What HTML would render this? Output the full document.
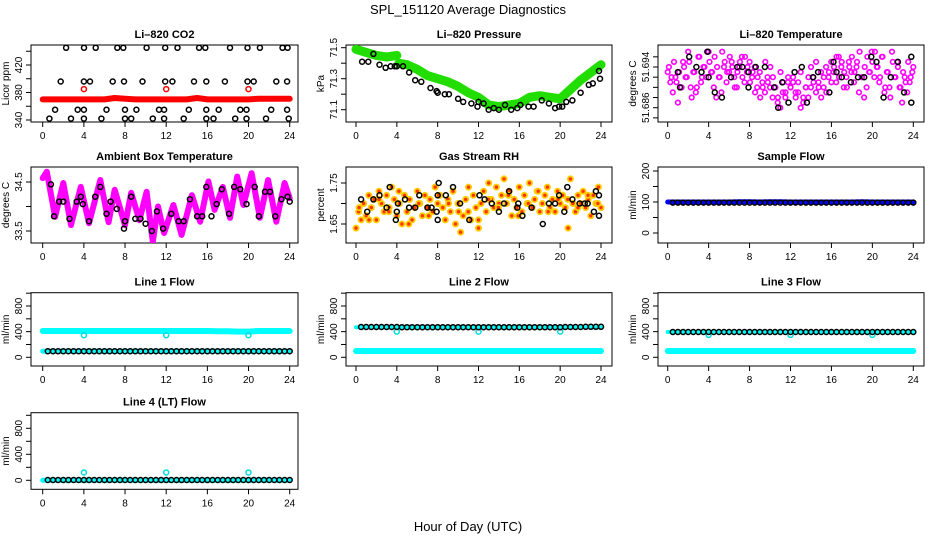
<!DOCTYPE html>
<html><head><meta charset="utf-8"><style>
html,body{margin:0;padding:0;background:#fff;}
svg{display:block;font-family:"Liberation Sans",Arial,sans-serif;}
</style></head><body>
<svg id="chart" width="936" height="540" viewBox="0 0 936 540" xmlns="http://www.w3.org/2000/svg">
<text x="468" y="14" text-anchor="middle" font-size="13">SPL_151120  Average Diagnostics</text>
<text x="468" y="531" text-anchor="middle" font-size="13">Hour of Day (UTC)</text>
</svg>
<script>
// ---- data ----
const xTickLabels = [0,4,8,12,16,20,24];
const co2TopT = [2.27,4.01,5.15,7.25,7.83,10.1,11.9,13.1,15.2,15.8,18.2,19.9,21.1,23.3,23.8];
const co2R400T = [1.75,4.0,4.6,6.8,7.9,9.7,11.9,12.6,14.7,15.9,17.7,19.9,20.5,22.7,23.75];
const co2R360T = [1.2,3.4,4.0,6.2,8.0,9.1,11.3,11.8,14.2,15.9,17.1,19.2,19.8,22.2,23.75];
const co2R342T = [0.65,2.75,4.0,5.7,8.0,8.6,10.7,11.8,13.7,15.9,16.6,18.7,19.8,21.7,23.9];
const co2Levels = [445,396,355,342];
const co2Band = [370,370,370,370,370,370,370,372,371,370,370,370,370,370,370,372,370,370,370,370,370,371,371,371,371];
const co2OutT = [4,12,20];
const co2OutV = [385,385,385];

const pressBandT = [0,1,2,3,4,4.2,5,6,7,8,9,10,11,12,13,14,15,16,17,18,19,20,21,22,23,24];
const pressBandV = [71.49,71.47,71.45,71.44,71.45,71.40,71.39,71.36,71.32,71.30,71.28,71.25,71.21,71.18,71.13,71.12,71.13,71.14,71.18,71.19,71.18,71.17,71.23,71.29,71.34,71.39];
const pressPtT = [0.6,1.2,1.7,2.3,2.9,3.4,3.8,4.0,4.6,5.2,5.8,6.4,7.3,7.9,8.0,8.7,9.1,10.0,10.5,11.3,11.9,12.0,12.5,13.0,13.5,14.0,14.6,15.2,15.8,16.1,16.9,17.4,18.2,18.9,19.5,19.9,20.2,20.6,21.2,22.0,22.8,23.2,23.8,23.9];
const pressPtV = [71.41,71.41,71.46,71.39,71.37,71.38,71.38,71.38,71.38,71.34,71.29,71.28,71.24,71.22,71.21,71.20,71.20,71.17,71.15,71.14,71.12,71.15,71.14,71.10,71.11,71.10,71.13,71.10,71.11,71.13,71.12,71.12,71.16,71.14,71.11,71.12,71.12,71.15,71.16,71.21,71.26,71.27,71.35,71.30];

const tempCloud = [51.693,51.691,51.689,51.692,51.687,51.690,51.695,51.692,51.697,
51.690,51.693,51.689,51.696,51.691,51.694,51.692,51.697,
51.693,51.690,51.688,51.692,51.689,51.694,51.691,51.693,
51.695,51.692,51.690,51.694,51.696,51.691,51.693,51.695,
51.692,51.694,51.690,51.693,51.691,51.689,51.692,51.690,
51.688,51.690,51.687,51.686,51.689,51.688,51.691,51.690,
51.692,51.689,51.691,51.693,51.688,51.690,51.692,51.694,
51.691,51.695,51.690,51.688,51.692,51.689,51.693,51.691,
51.694,51.696,51.692,51.695,51.693,51.690,51.694,51.696,
51.693,51.695,51.697,51.692,51.694,51.696,51.693,51.695,
51.697,51.694,51.692,51.696,51.690,51.693,51.688,51.695,
51.692,51.694,51.690,51.693,51.691,51.695,51.692,51.694];
const tempPtT = [1,1.2,2.1,2.8,3.3,3.9,4,4.6,5.3,6.2,6.8,7.3,7.9,7.9,8.6,9.5,10.4,10.8,11.2,11.8,12.4,13.1,13.6,14.2,14.7,15.8,16.2,16.5,17,17.9,18.6,19.2,19.9,20.4,21.1,21.8,22.5,23.1,23.8,23.8];
const tempPtV = [51.693,51.690,51.696,51.694,51.693,51.697,51.692,51.689,51.688,51.692,51.694,51.694,51.693,51.690,51.694,51.694,51.690,51.686,51.691,51.687,51.693,51.694,51.687,51.692,51.693,51.689,51.695,51.693,51.692,51.691,51.692,51.692,51.696,51.695,51.688,51.692,51.695,51.689,51.696,51.687];

const ambT = [0,0.4,1.2,2.0,2.75,3.7,4.5,5.6,6.4,7.0,8.0,8.6,9.4,10.1,10.7,11.2,11.8,12.7,13.5,14.5,15.3,16.1,16.7,17.5,18.2,18.9,19.5,20.3,21.1,21.9,22.7,23.5,24];
const ambV = [34.58,34.71,33.79,34.48,33.62,34.40,33.66,34.54,33.68,34.34,33.62,34.28,33.72,34.30,33.28,34.00,33.46,34.03,33.42,34.23,33.69,34.51,33.93,34.40,33.77,34.61,34.03,34.68,33.77,34.54,33.69,34.48,34.17];
const ambPtT = [0.8,1.1,1.6,2.0,2.6,3.3,3.7,3.9,4.5,5.1,5.6,6.2,6.6,7.2,7.9,8.0,8.6,9.0,9.5,10.0,10.6,11.1,11.7,12.5,13.2,13.7,14.3,15.0,15.5,15.9,16.4,16.9,17.4,18.1,18.6,19.2,19.8,20.6,21.0,21.6,22.1,22.6,23.2,23.8,24.0];
const ambPtV = [34.45,33.8,34.1,34.1,33.75,34.1,34.2,34.05,33.7,34.2,34.4,33.85,34.1,33.95,33.55,33.7,34.2,33.75,33.75,33.65,33.5,33.9,33.55,33.85,33.7,33.7,34.15,33.8,33.8,34.4,33.8,34.05,34.35,33.85,34.4,34.35,34.05,34.4,33.8,34.3,34.3,33.8,34.15,34.2,34.1];

const rhCloud = [1.64,1.68,1.66,1.70,1.67,1.72,1.69,1.71,1.66,
1.73,1.70,1.68,1.72,1.69,1.74,1.71,1.67,
1.70,1.65,1.72,1.68,1.71,1.66,1.69,1.73,
1.70,1.67,1.72,1.69,1.71,1.68,1.74,1.70,
1.72,1.69,1.66,1.71,1.68,1.73,1.65,1.70,
1.63,1.67,1.71,1.68,1.66,1.72,1.69,1.64,
1.70,1.73,1.68,1.75,1.71,1.69,1.74,1.70,
1.72,1.76,1.70,1.73,1.67,1.71,1.69,1.74,
1.68,1.72,1.70,1.75,1.69,1.71,1.73,1.68,
1.70,1.72,1.74,1.69,1.71,1.68,1.73,1.70,
1.72,1.69,1.71,1.76,1.70,1.68,1.72,1.70,
1.73,1.69,1.71,1.67,1.72,1.70,1.74,1.69];
const rhCloud2 = [1.69,1.66,1.71,1.68,1.73,1.65,1.70,1.67,1.72,1.70,1.68,1.74,1.66,1.71,1.69,1.72,1.67,1.70,1.73,1.68,1.71,1.64,1.69,1.72,1.70];
const rhPtT = [0.5,1.1,1.7,2.3,3.0,3.3,3.9,4.0,4.1,4.8,5.2,5.8,6.2,7.0,7.4,7.9,8.0,8.0,8.1,8.8,9.5,10.2,11.1,12.1,12.6,13.3,14.0,14.5,15.0,15.8,15.9,16.3,17.2,18.3,18.9,19.5,19.9,20.4,20.7,21.2,21.9,22.4,22.7,23.3,23.5,23.8,23.8];
const rhPtV = [1.71,1.68,1.71,1.72,1.69,1.74,1.66,1.68,1.70,1.71,1.69,1.69,1.72,1.69,1.69,1.68,1.66,1.72,1.75,1.72,1.74,1.70,1.66,1.72,1.71,1.70,1.68,1.70,1.73,1.69,1.70,1.67,1.69,1.65,1.70,1.70,1.72,1.68,1.74,1.71,1.70,1.70,1.70,1.68,1.73,1.72,1.67];

const sampleBand = [100,100,100,100,100,100,100,101,101,100,101,101,100,100,100,100,100,100,100,101,100,100,100,100,100];
const sampleBlack = [98,98,98,98,98,98,98,98,98,98,98,98,98,98,98,98,98,98,98,98,98,98,98,98,98,98,98,98,98,98,98,98,98,98,98,98,98,98,98,98,98,98,98,98,98,98,98,98];

const line1Cyan = [410,410,410,410,410,410,410,410,410,410,410,410,410,410,410,410,410,405,405,400,400,410,410,410,410];
const line1Black = [95,95,95,95,95,95,95,95,95,95,95,95,95,95,95,95,95,95,95,95,95,95,95,95,95,95,95,95,95,95,95,95,95,95,95,95,95,95,95,95,95,95,95,95,95,95,95,95];
const line1CyanLow = [95,95,95,95,95,95,95,95,95,95,95,95,95,95,95,95,95,95,95,95,95,95,95,95,95];
const line1OutV = [345,345,345];

const line2Cyan = [98,98,98,98,98,98,98,98,98,98,98,98,98,98,98,98,98,98,98,98,98,98,98,98,98];
const line2Black = [473,473,473,473,473,473,473,473,470,470,470,470,470,470,470,470,470,470,470,470,470,470,470,470,470,470,470,470,470,470,470,470,470,470,470,470,470,470,470,470,473,473,473,473,476,476,476,476];
const line2CyanHigh = [470,470,470,470,470,470,470,470,470,470,470,470,470,470,470,470,470,470,470,470,470,470,470,470,470];
const line2OutV = [400,400,400];

const line3Cyan = [98,98,98,98,98,98,98,98,98,98,98,98,98,98,98,98,98,98,98,98,98,98,98,98,98];
const line3Black = [395,395,395,395,395,395,395,395,395,395,395,395,395,395,395,395,395,395,395,395,395,395,395,395,395,395,395,395,395,395,395,395,395,395,395,395,395,395,395,395,395,395,395,395,395,395,395,395];
const line3CyanHigh = [395,395,395,395,395,395,395,395,395,395,395,395,395,395,395,395,395,395,395,395,395,395,395,395,395];
const line3OutV = [350,350,350];

const line4Cyan = [0,0,0,0,0,0,0,0,0,0,0,0,0,0,0,0,0,0,0,0,0,0,0,0,0];
const line4Black = [5,5,5,5,5,5,5,5,5,5,5,5,5,5,5,5,5,5,5,5,5,5,5,5,5,5,5,5,5,5,5,5,5,5,5,5,5,5,5,5,5,5,5,5,5,5,5,5];
const line4OutV = [120,120,120];
const outT = [4,12,20];

// ---- drawing ----
const NS = "http://www.w3.org/2000/svg";
const svg = document.getElementById('chart');
function mk(tag, attrs, parent){
  const e = document.createElementNS(NS, tag);
  for (const k in attrs) e.setAttribute(k, attrs[k]);
  (parent||svg).appendChild(e);
  return e;
}
const cols = [{px0:42.7,px24:289.7,bx0:31,bx1:298},{px0:356,px24:601,bx0:346,bx1:612},{px0:667.7,px24:913.3,bx0:658,bx1:924}];
const rows = [{by0:45,by1:122},{by0:167,by1:243},{by0:292.7,by1:366},{by0:412.7,by1:489.3}];

function panel(name, ci, ri, title, ylab, v1, p1, v2, p2, yticks){
  const c = cols[ci], r = rows[ri];
  const g = mk('g', {});
  
  
  const xs = h => c.px0 + (c.px24 - c.px0) * h / 24;
  const ys = v => p1 + (v - v1) * (p2 - p1) / (v2 - v1);
  const box = mk('rect', {x:c.bx0, y:r.by0, width:c.bx1-c.bx0, height:r.by1-r.by0, fill:'none', stroke:'#000', 'stroke-width':1}, g);
  
  
  const t = mk('text', {x:(c.bx0+c.bx1)/2, y:r.by0-7, 'text-anchor':'middle', 'font-size':11, 'font-weight':'bold'}, g);
  t.textContent = title;
  
  
  const xa = mk('g', {}, g);
  
  
  xTickLabels.forEach(h => {
    mk('line', {x1:xs(h), x2:xs(h), y1:r.by1, y2:r.by1+5, stroke:'#000'}, xa);
    const tl = mk('text', {x:xs(h), y:r.by1+17, 'text-anchor':'middle', 'font-size':10}, xa);
    tl.textContent = h;
  });
  const ya = mk('g', {}, g);
  
  
  yticks.forEach(tk => {
    const y = ys(tk.v);
    if (y < r.by0 - 0.5 || y > r.by1 + 0.5) return;
    mk('line', {x1:c.bx0-5, x2:c.bx0, y1:y, y2:y, stroke:'#000'}, ya);
    if (tk.l !== undefined) {
      const tl = mk('text', {x:0, y:0, 'text-anchor':'middle', 'font-size':10, transform:`translate(${c.bx0-9},${y}) rotate(-90)`}, ya);
      tl.textContent = tk.l;
    }
  });
  const yl = mk('text', {x:0, y:0, 'text-anchor':'middle', 'font-size':10, transform:`translate(${c.bx0-22},${(r.by0+r.by1)/2}) rotate(-90)`}, g);
  yl.textContent = ylab;
  
  
  const clip = 'clip-' + name;
  const cp = mk('clipPath', {id:clip}, g);
  mk('rect', {x:c.bx0, y:r.by0, width:c.bx1-c.bx0, height:r.by1-r.by0}, cp);
  const pg = mk('g', {'clip-path':`url(#${clip})`}, g);
  return {xs, ys, g:pg};
}
function band(P, T, V, color, w, name){
  const d = V.map((v,i) => (i?'L':'M') + P.xs(T[i]).toFixed(1) + ',' + P.ys(v).toFixed(1)).join(' ');
  const p = mk('path', {d, fill:'none', stroke:color, 'stroke-width':w, 'stroke-linejoin':'round', 'stroke-linecap':'round'}, P.g);
  
  
}
function pts(P, T, V, color, r, sw, name, fill){
  const gg = mk('g', {}, P.g);
  
  
  V.forEach((v,i) => {
    mk('circle', {cx:P.xs(T[i]).toFixed(1), cy:P.ys(v).toFixed(1), r, fill:fill||'none', stroke:color, 'stroke-width':sw}, gg);
  });
}
const even = (n, a, b) => Array.from({length:n}, (_,i) => a + (b - a) * i / (n - 1));

// CO2
let P = panel('co2-panel',0,0,'Li\u2013820 CO2','Licor ppm',340,120,420,65,[{v:340,l:'340'},{v:360},{v:380,l:'380'},{v:400},{v:420,l:'420'},{v:440}]);
band(P, even(co2Band.length,0,24), co2Band, '#ff0000', 6, 'co2-band');
pts(P, co2OutT, co2OutV, '#ff0000', 2.5, 1.5, 'co2-outliers');
[co2TopT, co2R400T, co2R360T, co2R342T].forEach((T, k) => pts(P, T, T.map(() => co2Levels[k]), '#000', 2.5, 1.5, 'co2-points'));

// Pressure
P = panel('pressure-panel',1,0,'Li\u2013820 Pressure','kPa',71.1,109.7,71.5,47.7,[{v:71.1,l:'71.1'},{v:71.2},{v:71.3,l:'71.3'},{v:71.4},{v:71.5,l:'71.5'}]);
band(P, pressBandT.slice(0,5), pressBandV.slice(0,5), '#22dd00', 9, 'pressure-band-a');
band(P, pressBandT.slice(5), pressBandV.slice(5), '#22dd00', 9, 'pressure-band-b');
pts(P, pressPtT, pressPtV, '#000', 2.5, 1.5, 'pressure-points');

// Li-820 Temperature
P = panel('li820-temp-panel',2,0,'Li\u2013820 Temperature','degrees C',51.686,107.7,51.694,67,[{v:51.684},{v:51.686,l:'51.686'},{v:51.688},{v:51.69},{v:51.692},{v:51.694,l:'51.694'},{v:51.696}]);
pts(P, even(tempCloud.length,0,24), tempCloud, '#ff00ff', 2.3, 1.6, 'temp-cloud');
pts(P, even(tempCloud.length,0.12,23.9), tempCloud.slice().reverse(), '#ff00ff', 2.3, 1.6, 'temp-cloud-2');
pts(P, tempPtT, tempPtV, '#000', 2.5, 1.5, 'temp-points');

// Ambient
P = panel('ambient-temp-panel',0,1,'Ambient Box Temperature','degrees C',34.5,182,33.5,231,[{v:33.5,l:'33.5'},{v:34},{v:34.5,l:'34.5'}]);
band(P, ambT, ambV, '#ff00ff', 6, 'ambient-band');
pts(P, ambPtT, ambPtV, '#000', 2.5, 1.5, 'ambient-points');

// RH
P = panel('rh-panel',1,1,'Gas Stream RH','percent',1.75,183,1.65,224,[{v:1.65,l:'1.65'},{v:1.7},{v:1.75,l:'1.75'}]);
pts(P, even(rhCloud.length,0,24), rhCloud, '#ffcc00', 2.6, 1.8, 'rh-cloud', '#ff3300');
pts(P, even(rhCloud2.length,0.3,23.7), rhCloud2, '#ffcc00', 2.6, 1.8, 'rh-cloud-2', '#ff3300');
pts(P, rhPtT, rhPtV, '#000', 2.5, 1.5, 'rh-points');

// Sample flow
P = panel('sample-flow-panel',2,1,'Sample Flow','ml/min',0,233,200,171,[{v:0,l:'0'},{v:50},{v:100,l:'100'},{v:150},{v:200,l:'200'}]);
band(P, even(sampleBand.length,0,24), sampleBand, '#0000ff', 5, 'sample-band');
pts(P, even(sampleBlack.length,0.5,24), sampleBlack, '#000', 2.5, 1.5, 'sample-points');

const flowTicks = [{v:0,l:'0'},{v:200},{v:400,l:'400'},{v:600},{v:800,l:'800'},{v:1000}];
// Line 1
P = panel('line1-flow-panel',0,2,'Line 1 Flow','ml/min',0,357.3,800,306,flowTicks);
band(P, even(line1Cyan.length,0,24), line1Cyan, '#00ffff', 6, 'line1-cyan-band');
band(P, even(line1CyanLow.length,0,24), line1CyanLow, '#00ffff', 5, 'line1-cyan-low');
pts(P, outT, line1OutV, '#00dddd', 2.5, 1.5, 'line1-outliers');
pts(P, even(line1Black.length,0.5,24), line1Black, '#000', 2.5, 1.5, 'line1-points');
// Line 2
P = panel('line2-flow-panel',1,2,'Line 2 Flow','ml/min',0,357.3,800,306,flowTicks);
band(P, even(line2Cyan.length,0,24), line2Cyan, '#00ffff', 6, 'line2-cyan-band');
band(P, even(line2CyanHigh.length,0,24), line2CyanHigh, '#00ffff', 4, 'line2-cyan-high');
pts(P, outT, line2OutV, '#00dddd', 2.5, 1.5, 'line2-outliers');
pts(P, even(line2Black.length,0.5,24), line2Black, '#000', 2.5, 1.5, 'line2-points');
// Line 3
P = panel('line3-flow-panel',2,2,'Line 3 Flow','ml/min',0,357.3,800,306,flowTicks);
band(P, even(line3Cyan.length,0,24), line3Cyan, '#00ffff', 6, 'line3-cyan-band');
band(P, even(line3CyanHigh.length,0,24), line3CyanHigh, '#00ffff', 4, 'line3-cyan-high');
pts(P, outT, line3OutV, '#00dddd', 2.5, 1.5, 'line3-outliers');
pts(P, even(line3Black.length,0.5,24), line3Black, '#000', 2.5, 1.5, 'line3-points');
// Line 4
P = panel('line4-flow-panel',0,3,'Line 4 (LT) Flow','ml/min',0,480.3,800,428.3,flowTicks);
band(P, even(line4Cyan.length,0,24), line4Cyan, '#00ffff', 5, 'line4-cyan-band');
pts(P, outT, line4OutV, '#00dddd', 2.5, 1.5, 'line4-outliers');
pts(P, even(line4Black.length,0.5,24), line4Black, '#000', 2.5, 1.5, 'line4-points');
</script>
</body></html>
